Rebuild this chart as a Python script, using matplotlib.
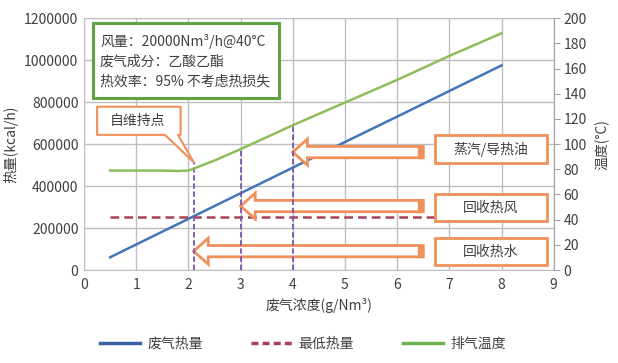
import matplotlib
matplotlib.use('Agg')
import matplotlib.pyplot as plt
import numpy as np
from matplotlib.patches import Polygon, Rectangle

plt.rcParams['font.family'] = ['Noto Sans CJK SC', 'DejaVu Sans']

# data
conc = [0.5, 1, 2, 3, 4, 5, 6, 7, 8]
heat = [61000, 122000, 244000, 366000, 488000, 610000, 731000, 853000, 975000]
min_heat = 255000
temp_x = [0.5, 1.0, 1.5, 1.8, 2.0, 2.1, 2.5, 3, 4, 5, 6, 7, 8]
temp_y = [79, 79, 79, 78.7, 79, 80.5, 87, 96, 115, 133, 151, 170, 188]
mark_x = [2.1, 3, 4]
mark_top = [514000, 576000, 690000]
arrow_y = [562000, 305000, 90000]
box_labels = ['蒸汽/导热油', '回收热风', '回收热水']
box_y = [576000, 298000, 88000]

BLUE = '#4476b8'
RED = '#a9415a'
GREEN = '#8fbd5c'
ORANGE = '#f0905a'
PURPLE = '#7a55b0'
GRID = '#bfbfbf'
TXT = '#404040'

fig = plt.figure(figsize=(6.18, 3.63), dpi=100)
ax = fig.add_axes([0.136, 0.256, 0.760, 0.694])
ax2 = ax.twinx()

ax.set_xlim(0, 9)
ax.set_ylim(0, 1200000)
ax2.set_ylim(0, 200)
ax.set_xticks(range(10))
ax.set_yticks(np.arange(0, 1200001, 200000))
ax.set_yticklabels([str(v) for v in range(0, 1200001, 200000)])
ax2.set_yticks(range(0, 201, 20))
ax.grid(True, color=GRID, lw=1)
ax.set_axisbelow(True)
for s in ax.spines.values():
    s.set_color(GRID)
for s in ax2.spines.values():
    s.set_visible(False)
ax2.spines['right'].set_visible(True)
ax2.spines['right'].set_color('#a6a6a6')
ax.tick_params(length=0, labelsize=10, labelcolor=TXT, pad=4)
ax.tick_params(axis='x', pad=6)
ax2.tick_params(length=4, color='#a6a6a6', labelsize=10, labelcolor=TXT, pad=3)

ax.plot(conc, heat, color=BLUE, lw=1.8, zorder=3)
ax.plot([conc[0], conc[-1]], [min_heat, min_heat], color=RED, lw=1.8, ls=(0, (3.5, 2)), zorder=3)
ax2.plot(temp_x, temp_y, color=GREEN, lw=1.8, zorder=3)

ax.set_xlabel('废气浓度(g/Nm³)', fontsize=10, color=TXT, labelpad=4)
ax.set_ylabel('热量(kcal/h)', fontsize=10, color=TXT, labelpad=4)
ax2.set_ylabel('温度(°C)', fontsize=10, color=TXT, rotation=90, labelpad=6)

# block arrows
x_end = 6.5
for tx, cy in zip([4, 3, 2.1], arrow_y):
    hx = tx + 0.28
    pts = [(tx, cy), (hx, cy + 62000), (hx, cy + 27000), (x_end, cy + 27000),
           (x_end, cy - 27000), (hx, cy - 27000), (hx, cy - 62000)]
    ax.add_patch(Polygon(pts, closed=True, fc='white', ec=ORANGE, lw=2, zorder=5))
    ax.add_patch(Rectangle((x_end - 0.1, cy - 27000), 0.1, 54000, fc=ORANGE, ec=ORANGE, lw=1, zorder=6))

# purple marker lines
for mx, top in zip(mark_x, mark_top):
    ax.plot([mx, mx], [0, top], color=PURPLE, lw=1.3, ls=(0, (3, 1.5)), zorder=7)

# label boxes
for lab, cy in zip(box_labels, box_y):
    ax.add_patch(Rectangle((6.72, cy - 66000), 2.15, 132000, fc='white', ec=ORANGE, lw=2, zorder=8))
    ax.text(7.8, cy, lab, ha='center', va='center', fontsize=10, color=TXT, zorder=9)

# callout
call = [(0.25, 778000), (1.85, 778000), (1.85, 644000), (1.80, 644000), (2.1, 514000),
        (1.55, 644000), (0.25, 644000)]
ax.add_patch(Polygon(call, closed=True, fc='white', ec=ORANGE, lw=1.5, joinstyle='round', zorder=8))
ax.text(1.03, 711000, '自维持点', ha='center', va='center', fontsize=10, color=TXT, zorder=9)

# info box
ax.add_patch(Rectangle((0.02, 0.683), 0.395, 0.297, transform=ax.transAxes,
                       fc='white', ec='#5fa342', lw=2.2, zorder=8))
info = ['风量：20000Nm³/h@40°C', '废气成分：乙酸乙酯', '热效率：95% 不考虑热损失']
for i, line in enumerate(info):
    ax.text(0.034, 0.909 - i * 0.08, line, transform=ax.transAxes, ha='left', va='center',
            fontsize=10, color=TXT, zorder=9)

# legend
h1, = ax.plot([], [], color='#3a62a7', lw=2.5)
h2, = ax.plot([], [], color=RED, lw=2.5, ls=(0, (2, 1.2)))
h3, = ax.plot([], [], color='#6cb24f', lw=2.5)
fig.legend([h1, h2, h3], ['废气热量', '最低热量', '排气温度'], loc='center', ncol=3,
           bbox_to_anchor=(0.49, 0.053), frameon=False, fontsize=10, handlelength=2.9,
           handletextpad=0.5, columnspacing=3.5, labelcolor=TXT)

fig.savefig('out.png', dpi=100)
